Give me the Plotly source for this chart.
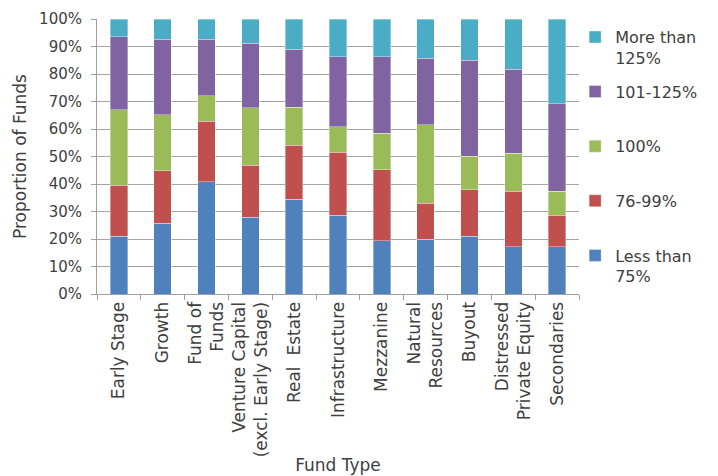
import plotly.graph_objects as go

categories = ["Early Stage", "Growth", "Fund of<br>Funds", "Venture Capital<br>(excl. Early Stage)",
              "Real  Estate", "Infrastructure", "Mezzanine", "Natural<br>Resources", "Buyout",
              "Distressed<br>Private Equity", "Secondaries"]

less_75 = [21.0, 25.7, 40.8, 28.0, 34.5, 28.6, 19.3, 19.9, 21.0, 17.2, 17.1]
r76_99 = [18.5, 19.1, 22.1, 18.8, 19.6, 22.9, 25.9, 13.1, 16.9, 20.1, 11.5]
r100 = [27.5, 20.4, 9.2, 21.0, 13.9, 9.3, 13.3, 28.5, 12.2, 13.9, 8.7]
r101_125 = [26.6, 27.4, 20.5, 23.4, 21.0, 25.5, 27.7, 24.2, 34.9, 30.5, 31.8]
more_125 = [6.4, 7.4, 7.4, 8.8, 11.0, 13.7, 13.8, 14.3, 15.0, 18.3, 30.9]

series_names = ["Less than<br>75%", "76-99%", "100%", "101-125%", "More than<br>125%"]
series_vals = [less_75, r76_99, r100, r101_125, more_125]
colors = ["#4F81BD", "#C0504D", "#9BBB59", "#8064A2", "#4BACC6"]

FONT = "DejaVu Sans"
fig = go.Figure()
for i, (name, vals, col) in enumerate(zip(series_names, series_vals, colors)):
    label = name if "<br>" in name else name + "<br> "
    fig.add_trace(go.Bar(
        x=categories, y=[v / 100 for v in vals], name=label,
        marker=dict(color=col, line=dict(color="rgba(255,255,255,0.6)", width=0.6)),
        legendgroup="g%d" % i, legendrank=100 - i,
    ))

fig.update_layout(
    barmode="stack",
    bargap=0.6,
    width=718, height=476,
    margin=dict(l=97, r=139, t=19, b=182, autoexpand=False),
    paper_bgcolor="white", plot_bgcolor="white",
    font=dict(family=FONT, size=16, color="#404040"),
    showlegend=True,
    legend=dict(
        x=0.992, xanchor="left", y=0.996, yanchor="top",
        traceorder="grouped", tracegroupgap=10, valign="top",
        font=dict(family=FONT, size=16, color="#404040"),
        itemwidth=30, bgcolor="rgba(0,0,0,0)", maxheight=460,
    ),
    xaxis=dict(
        automargin=False,
        tickangle=-90, tickson="boundaries", ticks="outside", ticklen=5,
        tickcolor="#a0a0a0", showline=True, linecolor="#a0a0a0", linewidth=1,
        tickfont=dict(family=FONT, size=17, color="#404040"),
        title=dict(text="Fund Type", font=dict(family=FONT, size=17, color="#404040"), standoff=2),
        showgrid=False,
    ),
    yaxis=dict(
        automargin=False,
        range=[0, 1], tickvals=[i / 10 for i in range(11)], tickformat=".0%",
        showgrid=True, gridcolor="#a6a6a6", gridwidth=1,
        showline=True, linecolor="#a0a0a0", linewidth=1,
        ticks="outside", ticklen=5, tickcolor="#a0a0a0", ticklabelstandoff=6,
        tickfont=dict(family=FONT, size=15, color="#404040"),
        title=dict(text="Proportion of Funds", font=dict(family=FONT, size=17, color="#404040"), standoff=8),
        zeroline=False,
    ),
)

fig.write_html("out.html")
